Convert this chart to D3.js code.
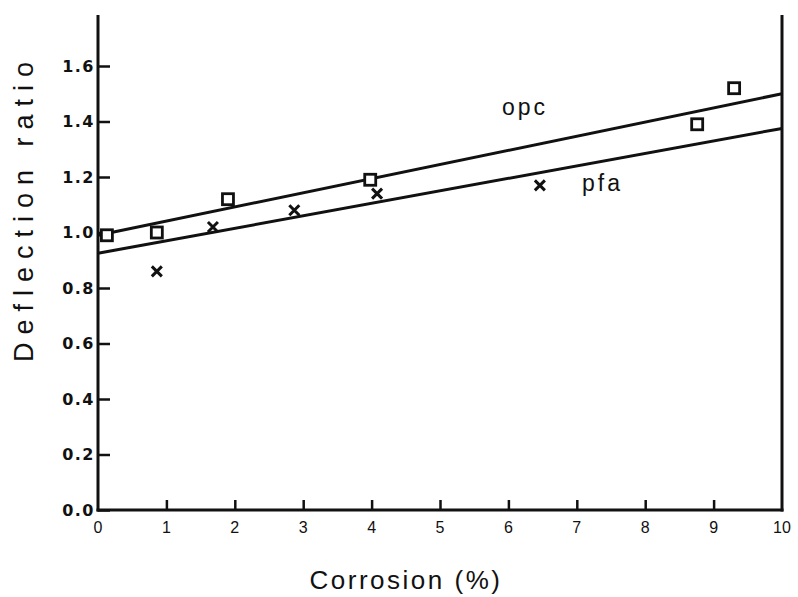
<!DOCTYPE html>
<html>
<head>
<meta charset="utf-8">
<script src="https://cdn.jsdelivr.net/npm/d3@7"></script>
<style>
  html, body { margin: 0; padding: 0; background: #fff; }
  svg { display: block; }
  text { font-family: "Liberation Sans", Arial, sans-serif; fill: #111; }
</style>
</head>
<body>
<div id="chart"></div>
<script>
// Deflection ratio vs. corrosion for opc and pfa beams
const xTicks = [0, 1, 2, 3, 4, 5, 6, 7, 8, 9, 10];
const yTicks = [0.0, 0.2, 0.4, 0.6, 0.8, 1.0, 1.2, 1.4, 1.6];

const opcCorrosion = [0.13, 0.86, 1.90, 3.98, 8.76, 9.30];
const opcRatio     = [0.99, 1.00, 1.12, 1.19, 1.39, 1.52];

const pfaCorrosion = [0.86, 1.68, 2.87, 4.08, 6.46];
const pfaRatio     = [0.86, 1.02, 1.08, 1.14, 1.17];

// fitted lines: [intercept, value at 10 %]
const opcFit = [0.99, 1.50];
const pfaFit = [0.925, 1.375];

const W = 798, H = 597;
const svg = d3.select("#chart").append("svg").attr("width", W).attr("height", H);

const x = d3.scaleLinear().domain([0, 10]).range([98, 782]);
const y = d3.scaleLinear().domain([0, 1.6]).range([510, 66]);
const yTop = 15;

const ink = "#111";

// frame: left and right axes plus baseline
svg.append("line").attr("x1", x(0)).attr("x2", x(0)).attr("y1", yTop).attr("y2", y(0) + 1.5)
  .attr("stroke", ink).attr("stroke-width", 3);
svg.append("line").attr("x1", x(10)).attr("x2", x(10)).attr("y1", yTop).attr("y2", y(0) + 1.5)
  .attr("stroke", ink).attr("stroke-width", 3);
svg.append("line").attr("x1", x(0) - 1.5).attr("x2", x(10) + 1.5).attr("y1", y(0)).attr("y2", y(0))
  .attr("stroke", ink).attr("stroke-width", 3);

// y axis ticks pointing inward
const yAxis = d3.axisRight(y).tickValues(yTicks).tickSize(12).tickFormat("");
const gy = svg.append("g").attr("transform", `translate(${x(0)},0)`).call(yAxis);
gy.select(".domain").remove();
gy.selectAll(".tick line").attr("stroke", ink).attr("stroke-width", 2.5);

svg.append("g").selectAll("text").data(yTicks).join("text")
  .attr("x", 95).attr("y", d => y(d)).attr("dy", "0.36em")
  .attr("text-anchor", "end").attr("font-size", 16).attr("font-weight", "bold")
  .attr("letter-spacing", 1.5)
  .style("font-family", "'DejaVu Sans', sans-serif")
  .text(d => d.toFixed(1));

// x axis ticks pointing upward
const xAxis = d3.axisTop(x).tickValues(xTicks.slice(1, -1)).tickSize(10).tickFormat("");
const gx = svg.append("g").attr("transform", `translate(0,${y(0)})`).call(xAxis);
gx.select(".domain").remove();
gx.selectAll(".tick line").attr("stroke", ink).attr("stroke-width", 2.5);

svg.append("g").selectAll("text").data(xTicks).join("text")
  .attr("x", d => x(d)).attr("y", 533)
  .attr("text-anchor", "middle").attr("font-size", 16)
  .text(d => d);

// fitted lines
const line = d3.line().x(d => x(d[0])).y(d => y(d[1]));
[opcFit, pfaFit].forEach(f => {
  svg.append("path").datum([[0, f[0]], [10, f[1]]])
    .attr("d", line).attr("fill", "none").attr("stroke", ink).attr("stroke-width", 3);
});

// opc: open squares
const sq = 11;
svg.append("g").selectAll("rect").data(opcCorrosion.map((c, i) => [c, opcRatio[i]])).join("rect")
  .attr("x", d => x(d[0]) - sq / 2).attr("y", d => y(d[1]) - sq / 2)
  .attr("width", sq).attr("height", sq)
  .attr("fill", "#fff").attr("stroke", ink).attr("stroke-width", 2.8);

// pfa: crosses
const cr = 5;
svg.append("g").selectAll("path").data(pfaCorrosion.map((c, i) => [c, pfaRatio[i]])).join("path")
  .attr("d", d => {
    const px = x(d[0]), py = y(d[1]);
    return `M${px - cr},${py - cr}L${px + cr},${py + cr}M${px - cr},${py + cr}L${px + cr},${py - cr}`;
  })
  .attr("stroke", ink).attr("stroke-width", 3).attr("fill", "none");

// series labels
svg.append("text").attr("x", 502).attr("y", 115).attr("font-size", 23).attr("letter-spacing", 3).text("opc");
svg.append("text").attr("x", 582).attr("y", 191).attr("font-size", 23).attr("letter-spacing", 3).text("pfa");

// axis titles
svg.append("text").attr("x", 406).attr("y", 589).attr("text-anchor", "middle")
  .attr("font-size", 26).attr("letter-spacing", 2.5).text("Corrosion (%)");
svg.append("text").attr("transform", "translate(33,208) rotate(-90)").attr("text-anchor", "middle")
  .attr("font-size", 27).attr("letter-spacing", 8).text("Deflection ratio");
</script>
</body>
</html>
